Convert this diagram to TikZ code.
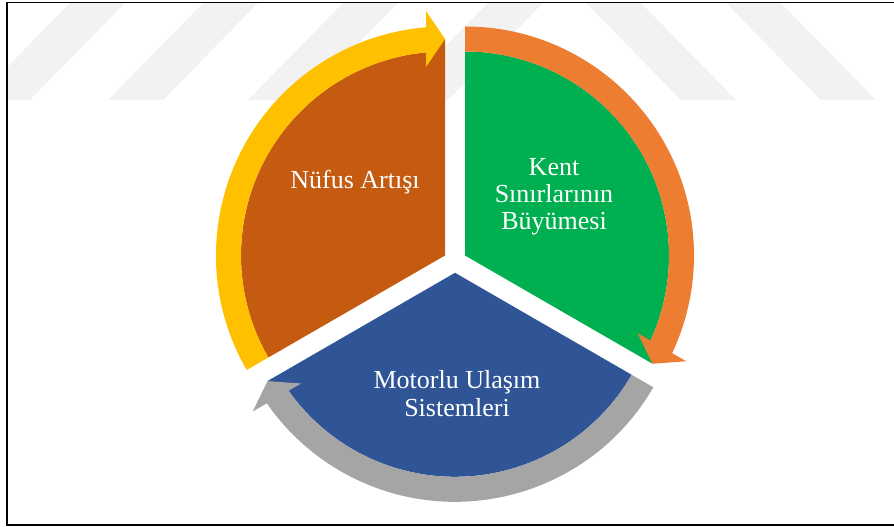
\documentclass[tikz,border=0pt]{standalone}
\usepackage{fontspec}
\setmainfont{Liberation Serif}
\usetikzlibrary{calc}

\definecolor{segbrown}{HTML}{C55A11}
\definecolor{seggreen}{HTML}{00B050}
\definecolor{segblue}{HTML}{2F5597}
\definecolor{arryellow}{HTML}{FFC000}
\definecolor{arrorange}{HTML}{ED7D31}
\definecolor{arrgray}{HTML}{A5A5A5}

% one pie segment: apex, start angle, end angle (clockwise), colour
\newcommand{\pieseg}[4]{%
  \fill[#4] (#1) -- ($(#1)+(#2:204pt)$)
    arc[start angle=#2, end angle=#3+5, radius=204pt]
    -- ($(#1)+(#3:216.5pt)$) -- cycle;}

% one curved band arrow running clockwise round a segment
\newcommand{\cyclearrow}[4]{%
  \fill[#4] ($(#1)+(#2:204pt)$) -- ($(#1)+(#2:229pt)$)
    arc[start angle=#2, end angle=#3+4.76, radius=229pt]
    -- ($(#1)+(#3:216.5pt)+({#3+90}:19pt)+(#3:28pt)$)
    -- ($(#1)+(#3:216.5pt)$)
    -- ($(#1)+(#3:216.5pt)+({#3+90}:19pt)+(#3:-28pt)$)
    -- ($(#1)+({#3+5.34}:204pt)$)
    arc[start angle=#3+5.34, end angle=#2, radius=204pt] -- cycle;}

\begin{document}
\begin{tikzpicture}[x=1pt,y=1pt,
  seglabel/.style={text=white, font=\fontsize{26pt}{27pt}\selectfont,
                   align=center, inner sep=0pt},
  wmark/.style={fill=black!5},
  frameline/.style={line width=1.8pt, black}]
\useasboundingbox (0,0) rectangle (894,527);

% faint stripes along the top edge of the frame
\begin{scope}
  \clip (7,2) rectangle (894,524);
  \foreach \a/\b in {70/-25, 203/108, 343/248, 488/393}
    \fill[wmark] (\a,524) -- (\a+55,524) -- (\b+55,427) -- (\b,427) -- cycle;
  \foreach \a/\b in {586/681, 726/821}
    \fill[wmark] (\a,524) -- (\a+55,524) -- (\b+55,427) -- (\b,427) -- cycle;
\end{scope}

% apexes of the three exploded segments
\coordinate (apexL) at (445,271.5);
\coordinate (apexR) at (465,271.5);
\coordinate (apexB) at (455,254.2);

% segments
\pieseg{apexL}{210}{90}{segbrown}
\pieseg{apexR}{90}{-30}{seggreen}
\pieseg{apexB}{-30}{-150}{segblue}

% arrows
\cyclearrow{apexL}{210}{90}{arryellow}
\cyclearrow{apexR}{90}{-30}{arrorange}
\cyclearrow{apexB}{-30}{-150}{arrgray}

% labels (base anchor sits on the last line of a multi-line label)
\node[seglabel, anchor=base] (nufus) at (355,338) {Nüfus Artışı};
\node[seglabel, anchor=base] (kent) at (554,297) {Kent\\Sınırlarının\\Büyümesi};
\node[seglabel, anchor=base, font=\fontsize{26pt}{28.5pt}\selectfont]
  (motorlu) at (457,110) {Motorlu Ulaşım\\Sistemleri};

% frame, open on the right
\draw[frameline] (894,524.5) -- (7,524.5) -- (7,1.7) -- (894,1.7);
\end{tikzpicture}
\end{document}
